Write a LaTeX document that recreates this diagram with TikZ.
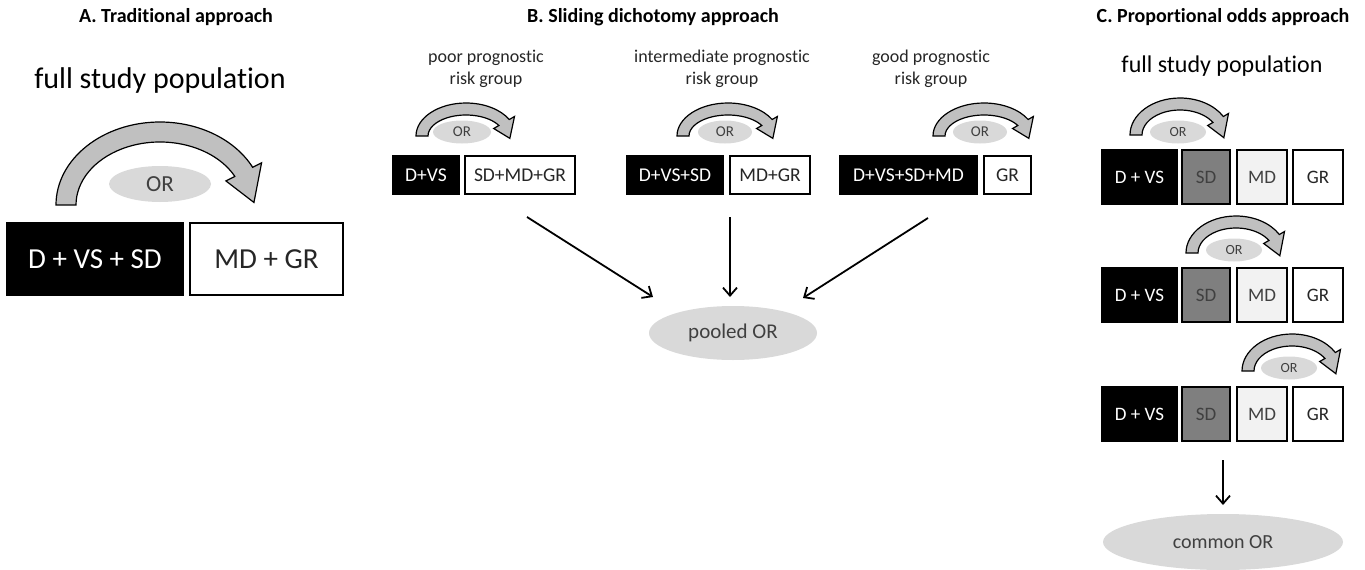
\documentclass[tikz,border=0pt]{standalone}
\usepackage{fontspec}
\setmainfont{Carlito}[Ligatures=NoCommon]
\usetikzlibrary{shapes.geometric,arrows.meta}
\definecolor{bandgray}{HTML}{C0C0C0}
\definecolor{ellgray}{HTML}{D9D9D9}
\definecolor{midgray}{HTML}{7F7F7F}
\definecolor{palegray}{HTML}{F2F2F2}
\definecolor{txtgray}{HTML}{404040}
\newcommand\fs[1]{\fontsize{#1}{#1}\selectfont}
\tikzset{
  ttl/.style={font=\bfseries\fontsize{20}{24}\selectfont, inner sep=0},
  pop/.style={inner sep=0},
  grp/.style={font=\fontsize{18}{22}\selectfont, align=center, inner sep=0, text=black!85},
  boxbase/.style={rectangle, draw=black, line width=2pt, inner sep=0, anchor=center},
  blk/.style={boxbase, fill=black, text=white},
  wht/.style={boxbase, fill=white, text=black!85},
  sdb/.style={boxbase, fill=midgray, text=txtgray},
  mdb/.style={boxbase, fill=palegray, text=txtgray},
  orell/.style={ellipse, fill=ellgray, draw=none, text=txtgray, inner sep=0},
  band/.style={fill=bandgray, draw=black, line width=1.2pt, line join=miter},
  conn/.style={line width=1.8pt, -{Straight Barb[length=8pt,width=14pt,line width=1.8pt]}},
}
% curved band arrow: cx, cy, Rx, Ry, w, end angle (visual), tip angle (visual)
\newcommand\curvarr[7]{%
\begin{scope}[shift={(#1,#2)}]
\pgfmathsetmacro\rxo{#3+#5/2}\pgfmathsetmacro\ryo{#4+#5/2}%
\pgfmathsetmacro\rxi{#3-#5/2}\pgfmathsetmacro\ryi{#4-#5/2}%
\pgfmathsetmacro\rxb{#3+#5}\pgfmathsetmacro\ryb{#4+#5}%
\pgfmathsetmacro\rxc{#3-#5}\pgfmathsetmacro\ryc{#4-#5}%
\pgfmathsetmacro\te{360-#6}\pgfmathsetmacro\tt{360-#7}%
\filldraw[band] (180:\rxo\space and \ryo) arc[start angle=180,end angle=\te,x radius=\rxo,y radius=\ryo]
  -- (\te:\rxb\space and \ryb) -- (\tt:#3 and #4) -- (\te:\rxc\space and \ryc)
  -- (\te:\rxi\space and \ryi) arc[start angle=\te,end angle=180,x radius=\rxi,y radius=\ryi] -- cycle;
\end{scope}}
\begin{document}
\begin{tikzpicture}[x=1pt,y=-1pt]
\useasboundingbox (0,0) rectangle (1365,570);
% ---------- A ----------
\node[ttl] (tA) at (176,17) {A. Traditional approach};
\node[pop, font=\fs{30}] (popA) at (160,81) {full study population};
\curvarr{160}{205}{94}{73}{20}{27}{2}
\node[orell, minimum width=102, minimum height=36, font=\fs{23}] (orA) at (160,184) {OR};
\node[blk, minimum width=176, minimum height=72, font=\fs{29}] (a1) at (95,259) {D + VS + SD};
\node[wht, minimum width=153, minimum height=72, font=\fs{29}] (a2) at (266.5,259) {MD + GR};
% ---------- B ----------
\node[ttl] (tB) at (653,17) {B. Sliding dichotomy approach};
\node[grp] (g1) at (486,69) {poor prognostic\\risk group};
\node[grp] (g2) at (722,69) {intermediate prognostic\\risk group};
\node[grp] (g3) at (931,69) {good prognostic\\risk group};
\curvarr{466}{136}{44}{27}{12}{30}{-5}
\curvarr{728}{136}{45}{27}{12}{30}{-5}
\curvarr{984}{136}{45}{27}{12}{30}{-5}
\node[orell, minimum width=58, minimum height=23, font=\fs{15}] (or1) at (462,132) {OR};
\node[orell, minimum width=54, minimum height=23, font=\fs{15}] (or2) at (725,132) {OR};
\node[orell, minimum width=54, minimum height=23, font=\fs{15}] (or3) at (980,132) {OR};
\node[blk, minimum width=66, minimum height=38, font=\fs{19.5}] (b11) at (426,175) {D+VS};
\node[wht, minimum width=110, minimum height=38, font=\fs{19.5}] (b12) at (520,175) {SD+MD+GR};
\node[blk, minimum width=96, minimum height=38, font=\fs{19.5}] (b21) at (675,175) {D+VS+SD};
\node[wht, minimum width=80, minimum height=38, font=\fs{19.5}] (b22) at (770,175) {MD+GR};
\node[blk, minimum width=137, minimum height=38, font=\fs{19.5}] (b31) at (908.5,175) {D+VS+SD+MD};
\node[wht, minimum width=47, minimum height=38, font=\fs{19.5}] (b32) at (1007.5,175) {GR};
\node[orell, minimum width=168, minimum height=54, font=\fs{21}] (pool) at (733,333) {pooled OR};
\coordinate (s1) at (527,217); \coordinate (e1) at (653,297);
\coordinate (s2) at (730,217); \coordinate (e2) at (730,297);
\coordinate (s3) at (928,218); \coordinate (e3) at (803,298);
\draw[conn] (s1) -- (e1);
\draw[conn] (s2) -- (e2);
\draw[conn] (s3) -- (e3);
% ---------- C ----------
\node[ttl] (tC) at (1223,17) {C. Proportional odds approach};
\node[pop, font=\fs{24}] (popC) at (1222,66) {full study population};
\curvarr{1180}{135}{44}{31}{12}{30}{-5}
\curvarr{1236}{253}{44}{31}{12}{30}{-5}
\curvarr{1292}{371}{44}{31}{12}{30}{-5}
\node[orell, minimum width=56, minimum height=23, font=\fs{14}] (oc1) at (1178,132) {OR};
\node[orell, minimum width=56, minimum height=23, font=\fs{14}] (oc2) at (1234,250) {OR};
\node[orell, minimum width=56, minimum height=23, font=\fs{14}] (oc3) at (1289,368) {OR};
\foreach \r/\y in {1/177,2/295,3/414}{
  \node[blk, minimum width=75, minimum height=54, font=\fs{19}] (c\r a) at (1139.5,\y) {D + VS};
  \node[sdb, minimum width=48, minimum height=54, font=\fs{19}] (c\r b) at (1206,\y) {SD};
  \node[mdb, minimum width=50, minimum height=54, font=\fs{19}] (c\r c) at (1262,\y) {MD};
  \node[wht, minimum width=50, minimum height=54, font=\fs{19}] (c\r d) at (1318,\y) {GR};
}
\node[orell, minimum width=240, minimum height=56, font=\fs{20}] (common) at (1223,542) {common OR};
\coordinate (cs) at (1223,460); \coordinate (ce) at (1223,505);
\draw[conn] (cs) -- (ce);
\end{tikzpicture}
\end{document}
